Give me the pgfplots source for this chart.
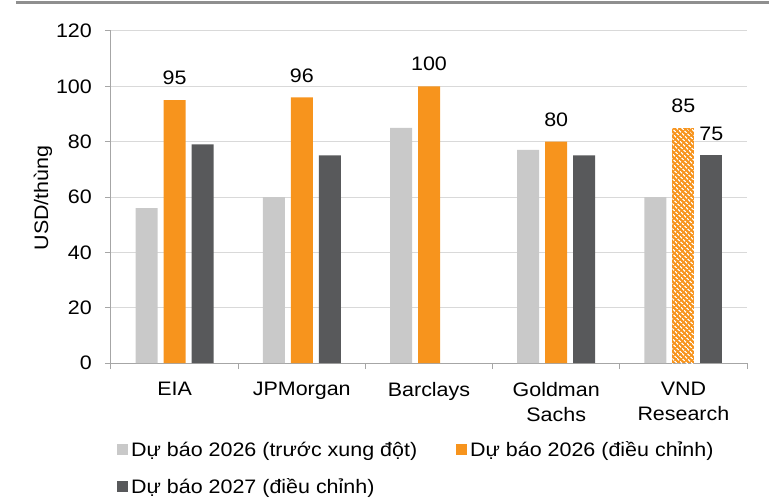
\documentclass[border=0pt]{standalone}
\usepackage{fontspec}
\setmainfont{Liberation Sans}[FakeStretch=1.1]
\usepackage{pgfplots}
\pgfplotsset{compat=1.18}
\usetikzlibrary{patterns.meta}
\definecolor{LightBar}{HTML}{C9C9C9}
\definecolor{OrangeBar}{HTML}{F7941D}
\definecolor{DarkBar}{HTML}{58595B}
\definecolor{GridCol}{HTML}{D9D9D9}
\definecolor{AxisCol}{HTML}{A6A6A6}
\definecolor{TopRule}{HTML}{8F8F8F}
\newcommand\chartfont{\fontsize{19.5bp}{25bp}\selectfont}

\begin{document}
\begin{tikzpicture}
% page frame: reference is 769x500 px, axis origin sits at px (111,363)
\path[use as bounding box] (-111bp,-137bp) rectangle (658bp,363bp);
\draw[TopRule,line width=3bp] (-95bp,360bp) -- (658bp,360bp);
\begin{axis}[
  at={(0,0)},anchor=south west,
  scale only axis,width=636bp,height=332bp,
  ybar,bar width=22bp,
  xmin=-0.5,xmax=4.5,ymin=0,ymax=120,
  axis lines*=left,
  axis line style={AxisCol,line width=1bp},
  tick align=outside,
  major tick length=0pt,minor tick length=6bp,
  minor tick style={AxisCol,line width=1bp},
  xtick={0,1,2,3,4},
  xticklabels={EIA,JPMorgan,Barclays,{Goldman\\Sachs},{VND\\Research}},
  minor xtick={-0.5,0.5,1.5,2.5,3.5,4.5},
  ytick={0,20,...,120},
  minor ytick={0,20,...,120},
  ymajorgrids,grid style={GridCol,line width=1bp},
  /pgf/number format/assume math mode=true,
  tick label style={font=\chartfont,text=black},
  xticklabel style={align=center,inner sep=0pt,yshift=-19bp},
  yticklabel style={inner sep=0pt,xshift=-19bp},
  ylabel={USD/thùng},
  ylabel style={font=\chartfont,at={(axis description cs:-0.107,0.497)},anchor=center,rotate=0},
  nodes near coords style={font=\chartfont,anchor=south,inner sep=0pt,yshift=15bp,text=black},
  legend columns=2,
  legend cell align=left,
  legend image code/.code={\draw[#1,draw=none] (0bp,-5.5bp) rectangle (11bp,5.5bp);},
  legend style={at={(axis description cs:0.0094,-0.233)},anchor=north west,
    draw=none,fill=none,inner sep=0pt,font=\chartfont,
    column sep=2bp,row sep=18bp,nodes={inner sep=1bp},
    /tikz/every even column/.append style={column sep=38bp}},
]
\addplot[fill=LightBar,draw=none,bar shift=-28bp] coordinates {(0,56) (1,60) (2,85) (3,77) (4,60)};
\addlegendentry{Dự báo 2026 (trước xung đột)}
\addplot[fill=OrangeBar,draw=none,bar shift=0bp,nodes near coords] coordinates {(0,95) (1,96) (2,100) (3,80)};
\addlegendentry{Dự báo 2026 (điều chỉnh)}
\addplot[forget plot,fill=OrangeBar,draw=none,bar shift=0bp,nodes near coords,
  postaction={pattern={Lines[angle=-45,distance=3.6bp,line width=1.5bp]},pattern color=white}]
  coordinates {(4,85)};
\addplot[fill=DarkBar,draw=none,bar shift=28bp] coordinates {(0,79) (1,75) (3,75)};
\addlegendentry{Dự báo 2027 (điều chỉnh)}
\addplot[forget plot,fill=DarkBar,draw=none,bar shift=28bp,nodes near coords] coordinates {(4,75)};
\end{axis}
\end{tikzpicture}
\end{document}
